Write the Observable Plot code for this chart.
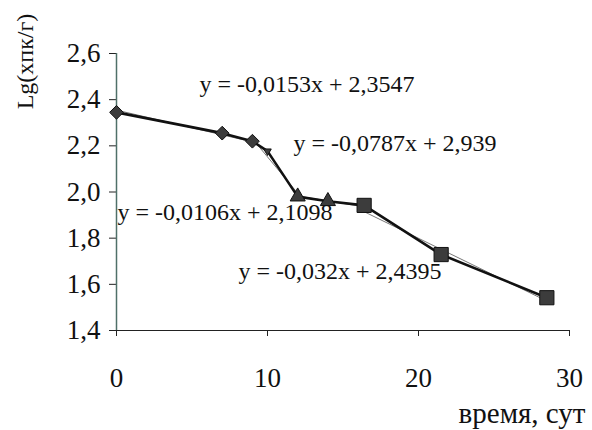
<!DOCTYPE html>
<html>
<head>
<meta charset="utf-8">
<script src="https://cdn.jsdelivr.net/npm/d3@7"></script>
<script src="https://cdn.jsdelivr.net/npm/@observablehq/plot@0.6"></script>
<style>
  html, body { margin: 0; padding: 0; background: #fff; }
  svg text { font-family: 'Liberation Serif', 'Times New Roman', serif; }
</style>
</head>
<body>
<div id="chart"></div>
<script>
// ---- data ----
const days      = [0, 7, 9, 10, 12, 14, 16.4, 21.5, 28.5];
const lgValues  = [2.345, 2.255, 2.22, 2.177, 1.98, 1.96, 1.942, 1.729, 1.542];
const pointKind = ["diamond", "diamond", "diamond", "small", "triangle", "triangle", "square", "square", "square"];

// trend segments: index ranges into the points, and their equations
const segStart   = [0, 2, 4, 6];
const segEnd     = [2, 4, 6, 8];
const slopes     = [-0.0153, -0.0787, -0.0106, -0.032];
const intercepts = [2.3547, 2.939, 2.1098, 2.4395];
const eqLabels   = ["y = -0,0153x + 2,3547", "y = -0,0787x + 2,939", "y = -0,0106x + 2,1098", "y = -0,032x + 2,4395"];
const eqAtX      = [5.5, 11.72, 0.07, 8.08];
const eqAtY      = [2.466, 2.21, 1.911, 1.656];

const xTicks = [0, 10, 20, 30];
const yTicks = [1.4, 1.6, 1.8, 2.0, 2.2, 2.4, 2.6];
const xTitle = "время, сут";
const yTitle = "Lg(хпк/г)";

// ---- tables ----
const points = days.map((d, i) => ({x: d, y: lgValues[i], kind: pointKind[i]}));
const trend = [];
segStart.forEach((s, k) => {
  [days[s], days[segEnd[k]]].forEach(x => trend.push({seg: k, x, y: slopes[k] * x + intercepts[k]}));
});
const eqs = eqLabels.map((t, i) => ({t, x: eqAtX[i], y: eqAtY[i]}));

const symbolOf = {diamond: "diamond2", small: "triangle", triangle: "triangle", square: "square"};
const rOf = {diamond: 6.2, small: 2.8, triangle: 5.6, square: 8};
const rotOf = {diamond: 0, small: 180, triangle: 0, square: 0};
const serif = "'Liberation Serif', 'Times New Roman', serif";

const plot = Plot.plot({
  width: 592,
  height: 430,
  marginLeft: 116,
  marginRight: 23,
  marginTop: 53,
  marginBottom: 100,
  x: {domain: [0, 30]},
  y: {domain: [1.4, 2.6]},
  r: {type: "identity"},
  style: {fontFamily: serif, background: "#fff", color: "#111"},
  marks: [
    Plot.axisX({ticks: xTicks, tickSize: 6, tickPadding: 31, fontSize: 27, fontFamily: serif, label: null, stroke: "#222"}),
    Plot.axisY({ticks: yTicks, tickSize: 7, tickPadding: 9, fontSize: 27, fontFamily: serif, label: null,
      tickFormat: d => d.toFixed(1).replace(".", ","), stroke: "#222"}),
    Plot.ruleY([1.4], {stroke: "#222", strokeWidth: 1.2}),
    Plot.ruleX([0], {stroke: "#4f7069", strokeWidth: 1.5}),
    Plot.line(trend, {x: "x", y: "y", z: "seg", stroke: "#777", strokeWidth: 1}),
    Plot.line(points, {x: "x", y: "y", stroke: "#111", strokeWidth: 2.6}),
    Plot.dot(points, {x: "x", y: "y",
      symbol: d => symbolOf[d.kind],
      r: d => rOf[d.kind],
      rotate: d => rotOf[d.kind],
      fill: "#3c3c3c", stroke: "#111", strokeWidth: 1}),
    Plot.text(eqs, {x: "x", y: "y", text: "t", textAnchor: "start", lineAnchor: "middle", fontSize: 24, fontFamily: serif, fill: "#111"}),
    Plot.text([xTitle], {frameAnchor: "bottom-right", dx: 16, dy: 83, textAnchor: "end", lineAnchor: "middle", fontSize: 29, fontFamily: serif, fill: "#111"}),
    Plot.text([yTitle], {frameAnchor: "top-left", dx: -91, dy: 8, rotate: -90, textAnchor: "middle", lineAnchor: "middle", fontSize: 24, fontFamily: serif, fill: "#111"})
  ]
});
document.getElementById("chart").appendChild(plot);
</script>
</body>
</html>
